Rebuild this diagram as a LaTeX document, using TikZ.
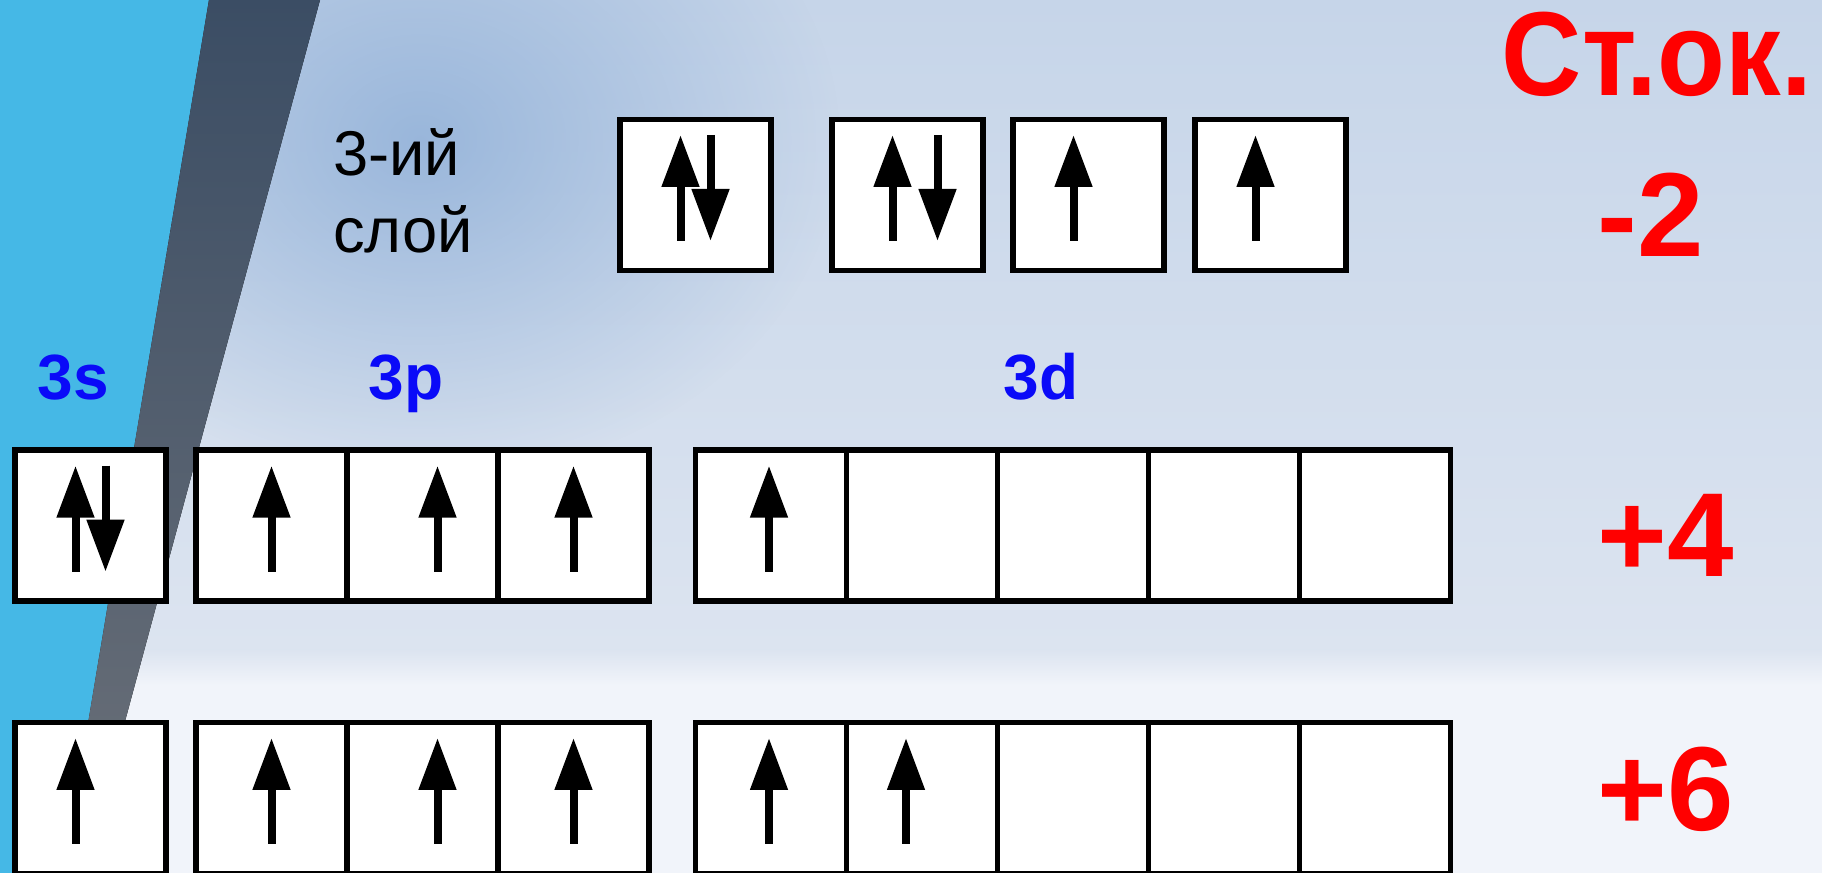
\documentclass[tikz,border=0pt]{standalone}
\usepackage{fontspec}
\setmainfont{Liberation Sans}
\usepackage{xcolor}
\usetikzlibrary{arrows.meta,positioning,fadings}

\definecolor{skyband}{HTML}{45B8E6}
\definecolor{slatetop}{HTML}{3B4D64}
\definecolor{slatebot}{HTML}{6C7179}
\definecolor{bgtop}{HTML}{C6D5E9}
\definecolor{bgmid}{HTML}{DCE4F0}
\definecolor{bglow}{HTML}{F1F4FA}
\definecolor{bgglow}{HTML}{8DAED7}
\definecolor{orbblue}{HTML}{0A0AF8}
\tikzfading[name=softglow, inner color=transparent!20, outer color=transparent!100]

\begin{document}
\begin{tikzpicture}[
  orb/.style={draw=black, fill=white, line width=0.55mm, minimum size=15.1mm, inner sep=0pt, outer sep=0pt},
  spinup/.style={-{Triangle[length=5.2mm,width=3.6mm]}, line width=0.8mm},
  sub/.style={text=orbblue, font=\bfseries\fontsize{18.2}{22}\selectfont, anchor=base},
  ox/.style={text=red, font=\bfseries\fontsize{34}{40}\selectfont, anchor=base},
]
% background
\useasboundingbox (0,0) rectangle (18.22,-8.73);
\fill[top color=bgtop, bottom color=bgmid] (0,0) rectangle (18.22,-6.5);
\fill[top color=bgmid, bottom color=bglow] (0,-6.5) rectangle (18.22,-6.85);
\fill[bglow] (0,-6.85) rectangle (18.22,-8.73);
\fill[bgglow, path fading=softglow] (4.2,-1.4) ellipse (4.2 and 3.4);
\fill[skyband] (0,0) -- (2.09,0) -- (0.63,-8.73) -- (0,-8.73) -- cycle;
\fill[top color=slatetop, bottom color=slatebot] (2.09,0) -- (3.20,0) -- (0.84,-8.73) -- (0.63,-8.73) -- cycle;

% 3-ий слой
\node[anchor=north west, inner sep=0pt, align=left, font=\fontsize{18}{21.9}\selectfont] (layer) at (3.325,-1.28) {3-ий\\слой};
\node[orb] (k1) at (6.955,-1.95) {};
\node[orb] (k2) at (9.075,-1.95) {};
\node[orb] (k3) at (10.885,-1.95) {};
\node[orb] (k4) at (12.705,-1.95) {};

% labels
\node[sub] (l3s) at (0.735,-4.0) {3s};
\node[sub] (l3p) at (4.06,-4.0) {3p};
\node[sub] (l3d) at (10.41,-4.0) {3d};

% +4 row
\node[orb] (s4) at (0.905,-5.257) {};
\node[orb] (p4a) at (2.715,-5.257) {};
\node[orb, right=0pt of p4a] (p4b) {};
\node[orb, right=0pt of p4b] (p4c) {};
\node[orb] (d4a) at (7.71,-5.257) {};
\node[orb, right=0pt of d4a] (d4b) {};
\node[orb, right=0pt of d4b] (d4c) {};
\node[orb, right=0pt of d4c] (d4d) {};
\node[orb, right=0pt of d4d] (d4e) {};

% +6 row
\node[orb] (s6) at (0.905,-7.98) {};
\node[orb] (p6a) at (2.715,-7.98) {};
\node[orb, right=0pt of p6a] (p6b) {};
\node[orb, right=0pt of p6b] (p6c) {};
\node[orb] (d6a) at (7.71,-7.98) {};
\node[orb, right=0pt of d6a] (d6b) {};
\node[orb, right=0pt of d6b] (d6c) {};
\node[orb, right=0pt of d6c] (d6d) {};
\node[orb, right=0pt of d6d] (d6e) {};

% spins
\draw[spinup] ([xshift=-1.5mm,yshift=-4.6mm]k1.center) -- ([xshift=-1.5mm,yshift=6mm]k1.center);
\draw[spinup] ([xshift=1.5mm,yshift=6mm]k1.center) -- ([xshift=1.5mm,yshift=-4.6mm]k1.center);
\draw[spinup] ([xshift=-1.5mm,yshift=-4.6mm]k2.center) -- ([xshift=-1.5mm,yshift=6mm]k2.center);
\draw[spinup] ([xshift=3mm,yshift=6mm]k2.center) -- ([xshift=3mm,yshift=-4.6mm]k2.center);
\draw[spinup] ([xshift=-1.5mm,yshift=-4.6mm]k3.center) -- ([xshift=-1.5mm,yshift=6mm]k3.center);
\draw[spinup] ([xshift=-1.5mm,yshift=-4.6mm]k4.center) -- ([xshift=-1.5mm,yshift=6mm]k4.center);

\draw[spinup] ([xshift=-1.5mm,yshift=-4.6mm]s4.center) -- ([xshift=-1.5mm,yshift=6mm]s4.center);
\draw[spinup] ([xshift=1.5mm,yshift=6mm]s4.center) -- ([xshift=1.5mm,yshift=-4.6mm]s4.center);
\draw[spinup] ([yshift=-4.6mm]p4a.center) -- ([yshift=6mm]p4a.center);
\draw[spinup] ([xshift=1.5mm,yshift=-4.6mm]p4b.center) -- ([xshift=1.5mm,yshift=6mm]p4b.center);
\draw[spinup] ([yshift=-4.6mm]p4c.center) -- ([yshift=6mm]p4c.center);
\draw[spinup] ([xshift=-0.2mm,yshift=-4.6mm]d4a.center) -- ([xshift=-0.2mm,yshift=6mm]d4a.center);

\draw[spinup] ([xshift=-1.5mm,yshift=-4.6mm]s6.center) -- ([xshift=-1.5mm,yshift=6mm]s6.center);
\draw[spinup] ([yshift=-4.6mm]p6a.center) -- ([yshift=6mm]p6a.center);
\draw[spinup] ([xshift=1.5mm,yshift=-4.6mm]p6b.center) -- ([xshift=1.5mm,yshift=6mm]p6b.center);
\draw[spinup] ([yshift=-4.6mm]p6c.center) -- ([yshift=6mm]p6c.center);
\draw[spinup] ([xshift=-0.2mm,yshift=-4.6mm]d6a.center) -- ([xshift=-0.2mm,yshift=6mm]d6a.center);
\draw[spinup] ([xshift=-1.6mm,yshift=-4.6mm]d6b.center) -- ([xshift=-1.6mm,yshift=6mm]d6b.center);

% oxidation states
\node[ox] (stok) at (16.57,-0.96) {\scalebox{0.93}[1]{Ст.ок.}};
\node[ox] (ox2) at (16.51,-2.57) {-2};
\node[ox] (ox4) at (16.655,-5.77) {+4};
\node[ox] (ox6) at (16.655,-8.30) {+6};
\end{tikzpicture}
\end{document}
